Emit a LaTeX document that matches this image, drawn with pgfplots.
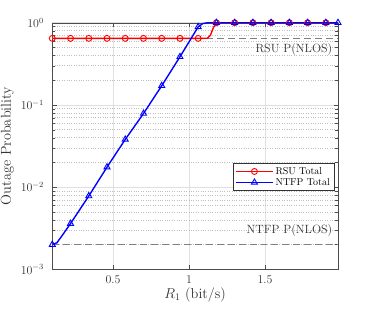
\documentclass[border=0pt]{standalone}
\usepackage{pgfplots}
\pgfplotsset{compat=1.18}
\begin{document}
\begin{tikzpicture}
\begin{axis}[
  at={(0,0)}, anchor=south west,
  scale only axis, width=285.7bp, height=246.6bp,
  ymode=log, xmin=0.1, xmax=1.98, ymin=1e-3, ymax=1,
  xtick={0.5,1,1.5}, xticklabels={0.5,1,1.5},
  ytick={1e-3,1e-2,1e-1,1},
  tick align=inside,
  axis line style={black!70},
  major tick style={black!70},
  minor tick style={black!70},
  grid=both,
  xminorgrids=false,
  major grid style={black!12, line width=0.5pt},
  minor grid style={black!25, dotted, line width=0.4pt},
  tick label style={font=\large, black!80},
  yticklabel style={xshift=-5pt},
  xticklabel style={yshift=-3pt},
  xlabel={$R_1$ (bit/s)},
  ylabel={Outage Probability},
  label style={font=\Large, black!80},
  xlabel style={yshift=3pt},
  legend style={at={(rel axis cs:0.986,0.431)}, anchor=north east, font=\normalsize, draw=black!80, inner sep=2pt, row sep=-1.5pt, cells={anchor=west}},
  legend cell align=left,
  legend image code/.code={\draw[mark indices={2}] plot coordinates {(0cm,0cm) (0.65cm,0cm) (1.3cm,0cm)};},
]
\addplot[black!50, dashed, dash pattern=on 7pt off 4pt, line width=0.6pt, forget plot] coordinates {(0.1,0.645) (1.98,0.645)};
\addplot[black!50, dashed, dash pattern=on 7pt off 4pt, line width=0.6pt, forget plot] coordinates {(0.1,0.002) (1.98,0.002)};
\addplot[red, line width=1.4pt, mark=o, mark size=3pt, mark options={solid, line width=0.9pt},
  mark indices={1,2,3,4,5,6,7,8,9,13,14,15,16,17,18,19}] coordinates {
  (0.10,0.645) (0.22,0.645) (0.34,0.645) (0.46,0.645) (0.58,0.645) (0.70,0.645) (0.82,0.645) (0.94,0.645)
  (1.06,0.645) (1.12,0.648) (1.14,0.70) (1.16,0.87) (1.18,1.0) (1.30,1.0) (1.42,1.0) (1.54,1.0)
  (1.66,1.0) (1.78,1.0) (1.90,1.0) (1.98,1.0)
};
\addlegendentry{RSU Total}
\addplot[blue, line width=1.4pt, mark=triangle, mark size=3.5pt, mark options={solid, line width=0.9pt},
  mark indices={1,5,6,7,8,9,10,11,12,15,16,17,18,19,20,21,22}] coordinates {
  (0.10,0.0020) (0.13,0.0021) (0.16,0.0025) (0.19,0.0030) (0.22,0.0036) (0.34,0.0078) (0.46,0.0175)
  (0.58,0.038) (0.70,0.0785) (0.82,0.171) (0.94,0.385) (1.06,0.89) (1.09,0.975) (1.12,0.998)
  (1.18,1.0) (1.30,1.0) (1.42,1.0) (1.54,1.0) (1.66,1.0) (1.78,1.0) (1.90,1.0) (1.98,1.0)
};
\addlegendentry{NTFP Total}
\node[anchor=east, font=\large, black!80] at (axis cs:1.965,0.47) {RSU P(NLOS)};
\node[anchor=east, font=\large, black!80] at (axis cs:1.965,0.0030) {NTFP P(NLOS)};
\end{axis}
\pgfresetboundingbox
\path (-52.3bp,-39.7bp) rectangle (321.7bp,269.3bp);
\end{tikzpicture}
\end{document}
